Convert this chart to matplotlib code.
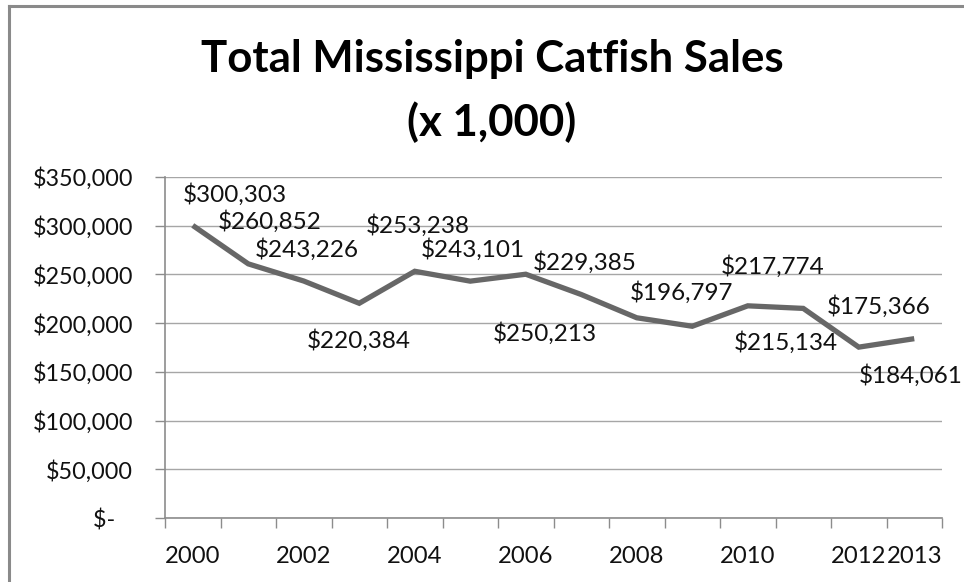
import matplotlib
matplotlib.use("Agg")
import matplotlib.pyplot as plt
from matplotlib.lines import Line2D
from matplotlib.ticker import FixedLocator, FuncFormatter

# Annual catfish sales, thousands of dollars
years = [2000, 2001, 2002, 2003, 2004, 2005, 2006,
         2007, 2008, 2009, 2010, 2011, 2012, 2013]
sales = [300303, 260852, 243226, 220384, 253238, 243101, 250213,
         229385, 205500, 196797, 217774, 215134, 175366, 184061]
labeled = [True, True, True, True, True, True, True,
           True, False, True, True, True, True, True]
year_labels = ["2000", "", "2002", "", "2004", "", "2006",
               "", "2008", "", "2010", "", "2012", "2013"]
y_ticks = [0, 50000, 100000, 150000, 200000, 250000, 300000, 350000]

title_lines = ["Total Mississippi Catfish Sales", "(x 1,000)"]

# label placement relative to each point, in pixels (dx, dy)
label_offsets = [(42, 31), (21, 42), (3, 32), (-1, -37), (3, 46), (3, 32),
                 (19, -59), (3, 32), (0, 0), (-11, 34), (25, 39), (-17, -34),
                 (20, 41), (-4, -37)]

FONT = "Lato"
TXT = "#111111"
W, H = 964, 582
fig = plt.figure(figsize=(W / 100, H / 100), dpi=100)
fig.patch.set_facecolor("white")

ax = fig.add_axes([165 / W, 1 - 518 / H, (942 - 165) / W, (518 - 177) / H])
x = list(range(len(years)))
ax.plot(x, sales, color="#676767", lw=3.8, solid_joinstyle="miter",
        solid_capstyle="butt", zorder=3)

ax.set_xlim(-0.5, len(years) - 0.5)
ax.set_ylim(0, 350000)

# y axis: gridlines and accounting-style labels
def money(v, pos):
    if v == 0:
        return "$-   "
    return "${:,.0f}".format(v)

ax.yaxis.set_major_locator(FixedLocator(y_ticks))
ax.yaxis.set_major_formatter(FuncFormatter(money))
ax.grid(axis="y", color="#a6a6a6", lw=1.0)
ax.set_axisbelow(True)

# x axis: tick marks between categories, labels centred under them
ax.set_xticks([i for i in x])
ax.set_xticklabels(year_labels)
ax.set_xticks([i - 0.5 for i in range(len(years) + 1)], minor=True)
ax.tick_params(axis="x", which="major", length=0, pad=20)
ax.tick_params(axis="x", which="minor", length=7, width=1.0, color="#8c8c8c",
               direction="out")
ax.tick_params(axis="y", length=7, width=1.0, color="#8c8c8c", pad=16,
               direction="out")
for lab in ax.get_xticklabels():
    lab.set_fontfamily(FONT)
    lab.set_fontsize(17.2)
    lab.set_color(TXT)
for lab in ax.get_yticklabels():
    lab.set_fontfamily(FONT)
    lab.set_fontsize(16.8)
    lab.set_color(TXT)

for side in ("top", "right"):
    ax.spines[side].set_visible(False)
for side in ("left", "bottom"):
    ax.spines[side].set_color("#8c8c8c")
    ax.spines[side].set_linewidth(1.2)

# data labels
for i, (v, show, off) in enumerate(zip(sales, labeled, label_offsets)):
    if not show:
        continue
    ax.annotate("${:,.0f}".format(v), xy=(i, v), xytext=off,
                textcoords="offset pixels", ha="center", va="center",
                fontfamily=FONT, fontsize=17.5, color=TXT, zorder=4)

# title
fig.text(492 / W, 1 - 72 / H, title_lines[0], ha="center", va="baseline",
         fontfamily=FONT, fontweight="bold", fontsize=31.5, color="black")
fig.text(492 / W, 1 - 136 / H, title_lines[1], ha="center", va="baseline",
         fontfamily=FONT, fontweight="bold", fontsize=31.5, color="black")

# chart border
fig.add_artist(Line2D([9 / W, 1], [1 - 6 / H, 1 - 6 / H], color="#8a8a8a",
                      lw=2.2, transform=fig.transFigure))
fig.add_artist(Line2D([9 / W, 9 / W], [0, 1 - 6 / H], color="#8a8a8a",
                      lw=2.2, transform=fig.transFigure))

fig.savefig("out.png", dpi=100, facecolor="white")
